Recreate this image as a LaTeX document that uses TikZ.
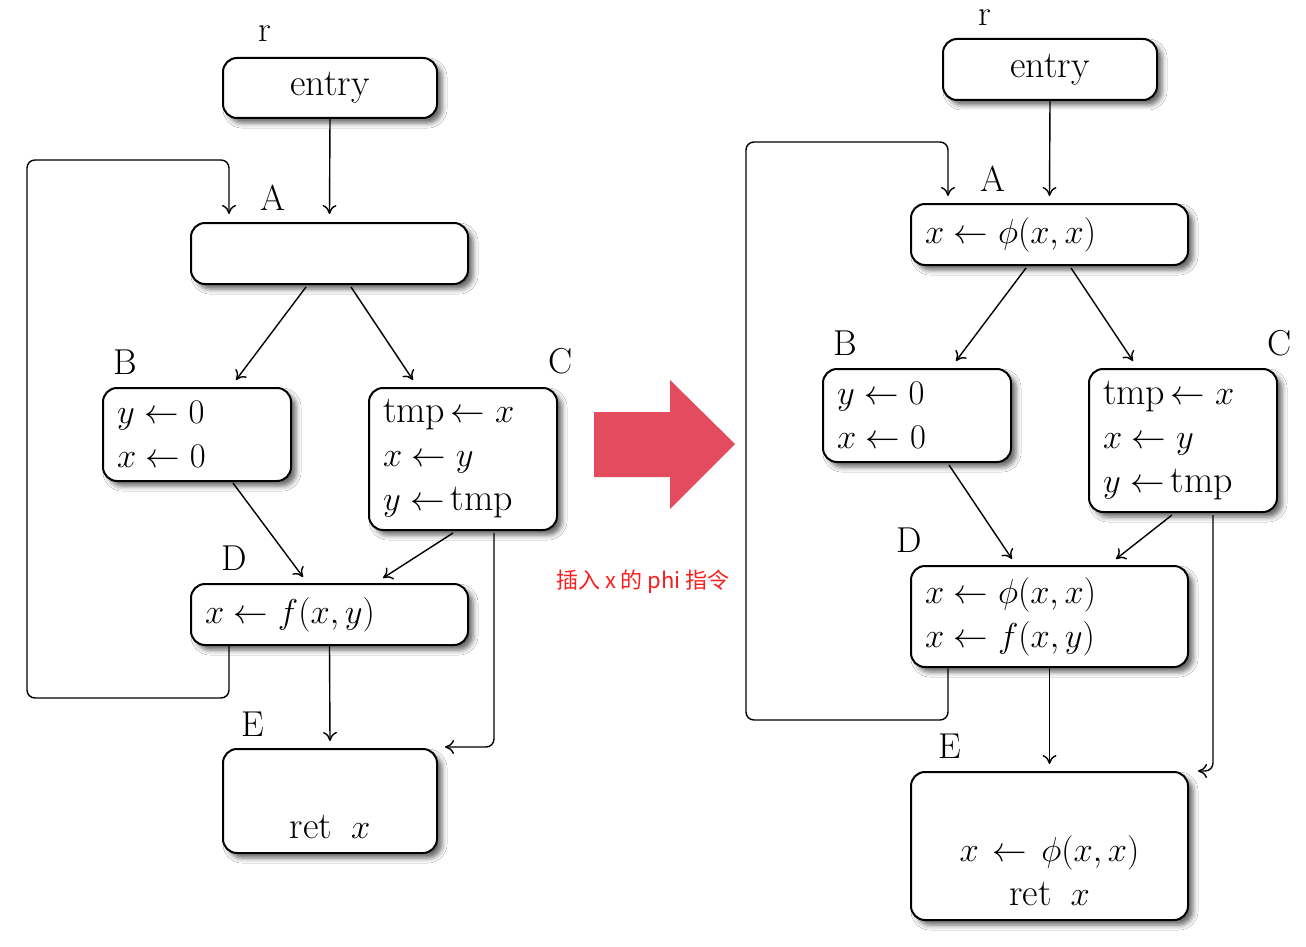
\documentclass[tikz,border=0pt]{standalone}
\usepackage{amsmath,amsfonts}
\usepackage{fontspec}
\usetikzlibrary{arrows.meta,shadows.blur}
\newfontfamily\cjk{Noto Sans CJK SC}
\definecolor{bigarrow}{RGB}{227,76,94}
\definecolor{notered}{RGB}{250,30,30}

\begin{document}
\begin{tikzpicture}[x=0.5pt,y=-0.5pt,>={To[length=4.5pt,width=7pt]},
  blk/.style={draw,line width=1pt,rounded corners=7pt,fill=white,
    inner xsep=7pt,inner ysep=2pt,font=\fontsize{19}{22}\selectfont,
    blur shadow={shadow xshift=2.5pt,shadow yshift=-2.5pt,shadow blur radius=2.5pt,shadow opacity=60}},
  lbl/.style={inner sep=1pt,font=\fontsize{18}{20}\selectfont},
  flow/.style={->,line width=0.7pt,rounded corners=4pt}]
\fill[white] (0,0) rectangle (1306,947);
\useasboundingbox (0,0) rectangle (1306,947);

% before
\node[blk,text width=93pt,minimum height=30pt,align=center] (entryL) at (330,88) {entry};
\node[blk,text width=124.5pt,minimum height=30.5pt,align=left] (AL) at (329.5,253.5) {};
\node[blk,text width=80pt,minimum height=46.5pt,align=left] (BL) at (197,434.5) {$y\leftarrow 0$\\ $x\leftarrow 0$};
\node[blk,text width=80pt,minimum height=71pt,align=left] (CL) at (463,459) {tmp$\,\leftarrow x$\\ $x\leftarrow y$\\ $y\leftarrow\,$tmp};
\node[blk,text width=124.5pt,minimum height=30.5pt,align=left] (DL) at (329.5,614.5) {$x\leftarrow f(x,y)$};
\node[blk,text width=93pt,minimum height=52pt,align=center] (EL) at (330,801) {\mbox{}\\[16pt] ret\enspace$x$};
\node[lbl] (rL) at (265,34) {r};
\node[lbl] (lAL) at (273,198) {A};
\node[lbl] (lBL) at (125,362) {B};
\node[lbl] (lCL) at (561,361) {C};
\node[lbl] (lDL) at (234,558) {D};
\node[lbl] (lEL) at (253,724) {E};

\draw[flow] (entryL.south) -- ([shift={(0,-8)}]AL.north);
\draw[flow] ([shift={(-100.5,0)}]DL.south) -- ++(0,52) -| (27,160) -| ([shift={(-100.5,-8)}]AL.north);
\draw[flow] ([shift={(-23.5,2)}]AL.south) -- ([shift={(39,-7)}]BL.north);
\draw[flow] ([shift={(21.5,2)}]AL.south) -- ([shift={(-50,-7)}]CL.north);
\draw[flow] ([shift={(36,1)}]BL.south) -- ([shift={(-26.5,-6)}]DL.north);
\draw[flow] ([shift={(-10,2)}]CL.south) -- ([shift={(53.5,-5)}]DL.north);
\draw[flow] ([shift={(31,2)}]CL.south) |- ([shift={(7,-1)}]EL.north east);
\draw[flow] (DL.south) -- ([shift={(0,-7)}]EL.north);

% middle
\fill[bigarrow] (594,412) -- (670,412) -- (670,380) -- (735,444) -- (670,509) -- (670,477) -- (594,477) -- cycle;
\node[font=\cjk\fontsize{11}{13}\selectfont,text=notered] (note) at (643,582) {插入 x 的 phi 指令};

% after
\node[blk,text width=93pt,minimum height=30.5pt,align=center] (entryR) at (1050,69.5) {entry};
\node[blk,text width=124.5pt,minimum height=30.5pt,align=left] (AR) at (1049.5,234.5) {$x\leftarrow\phi(x,x)$};
\node[blk,text width=80pt,minimum height=46.5pt,align=left] (BR) at (917,415.5) {$y\leftarrow 0$\\ $x\leftarrow 0$};
\node[blk,text width=80pt,minimum height=71.5pt,align=left] (CR) at (1183,440.5) {tmp$\,\leftarrow x$\\ $x\leftarrow y$\\ $y\leftarrow\,$tmp};
\node[blk,text width=124.5pt,minimum height=50.5pt,align=left] (DR) at (1049.5,616.5) {$x\leftarrow\phi(x,x)$\\ $x\leftarrow f(x,y)$};
\node[blk,text width=124.5pt,minimum height=74pt,align=center] (ER) at (1049.5,846) {\mbox{}\\[16pt] $x\leftarrow\phi(x,x)$\\ ret\enspace$x$};
\node[lbl] (rR) at (985,18) {r};
\node[lbl] (lAR) at (993,179) {A};
\node[lbl] (lBR) at (845,343) {B};
\node[lbl] (lCR) at (1280,343) {C};
\node[lbl] (lDR) at (909,540) {D};
\node[lbl] (lER) at (950,746) {E};

\draw[flow] (entryR.south) -- ([shift={(0,-7)}]AR.north);
\draw[flow] ([shift={(-101.5,0)}]DR.south) -- ++(0,52) -| (746,142) -| ([shift={(-101.5,-7)}]AR.north);
\draw[flow] ([shift={(-23.5,2)}]AR.south) -- ([shift={(39,-7)}]BR.north);
\draw[flow] ([shift={(21.5,2)}]AR.south) -- ([shift={(-50,-7)}]CR.north);
\draw[flow] ([shift={(32,2)}]BR.south) -- ([shift={(-37.5,-6)}]DR.north);
\draw[flow] ([shift={(-11,2)}]CR.south) -- ([shift={(66.5,-6)}]DR.north);
\draw[flow] ([shift={(30,2)}]CR.south) |- ([shift={(9,0)}]ER.north east);
\draw[flow] (DR.south) -- ([shift={(0,-7)}]ER.north);
\end{tikzpicture}
\end{document}
